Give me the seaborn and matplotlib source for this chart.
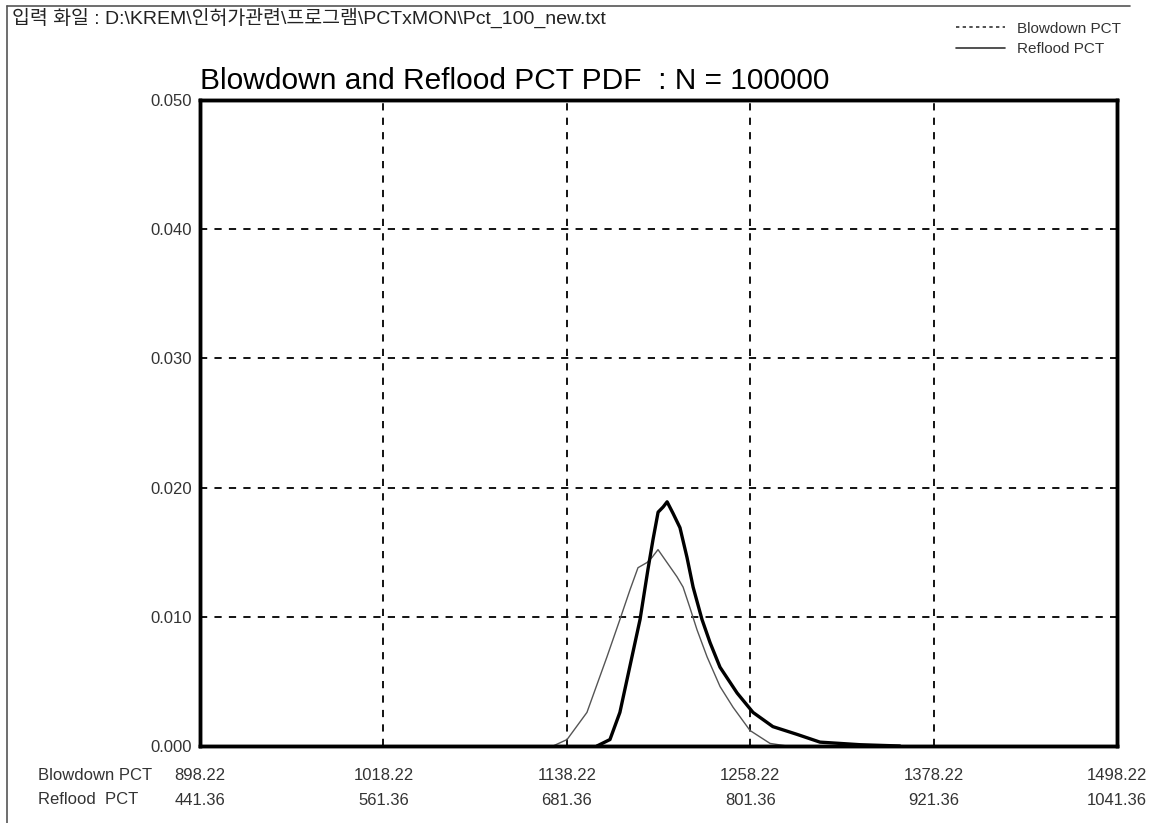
import matplotlib
matplotlib.use("Agg")
import matplotlib.pyplot as plt
import seaborn as sns
import pandas as pd
from matplotlib.lines import Line2D

# ---------------- data ----------------
blowdown_pct = [1129.2, 1138.4, 1151.4, 1164.5, 1173.0, 1179.6, 1184.8, 1190.7, 1194.0,
                1197.9, 1203.8, 1210.3, 1214.3, 1218.8, 1223.4, 1230.0, 1238.5, 1247.0,
                1258.1, 1271.2, 1282.3]
blowdown_pdf = [0.0000, 0.0005, 0.0026, 0.0069, 0.0098, 0.0121, 0.0138, 0.0142, 0.0146,
                0.0152, 0.0142, 0.0131, 0.0123, 0.0107, 0.0090, 0.0069, 0.0046, 0.0030,
                0.0012, 0.0002, 0.0000]

reflood_pct = [701.1, 709.6, 716.1, 722.7, 729.3, 734.5, 737.8, 741.1, 744.4, 747.0,
               750.9, 755.4, 760.0, 764.0, 769.8, 775.1, 781.6, 792.8, 803.2, 816.2,
               832.0, 847.0, 873.2, 899.3]
reflood_pdf = [0.0000, 0.0005, 0.0026, 0.0062, 0.0098, 0.0137, 0.0160, 0.0181, 0.0185, 0.0189,
               0.0180, 0.0169, 0.0146, 0.0123, 0.0098, 0.0080, 0.0061, 0.0041, 0.0026, 0.0015,
               0.0009, 0.0003, 0.0001, 0.0000]

blowdown_ticks = [898.22, 1018.22, 1138.22, 1258.22, 1378.22, 1498.22]
reflood_ticks = [441.36, 561.36, 681.36, 801.36, 921.36, 1041.36]
y_ticks = [0.000, 0.010, 0.020, 0.030, 0.040, 0.050]

title = "Blowdown and Reflood PCT PDF  : N = 100000"
header = "입력 화일 : D:\\KREM\\인허가관련\\프로그램\\PCTxMON\\Pct_100_new.txt"
series_names = ["Blowdown PCT", "Reflood PCT"]

# ---------------- style ----------------
sns.set_theme(style="white")
plt.rcParams['font.family'] = ['Liberation Sans', 'Noto Sans CJK KR', 'DejaVu Sans']

fig = plt.figure(figsize=(11.75, 8.23), dpi=100)
ax = fig.add_axes([200/1175, 77/823, 917/1175, 646/823])

df_b = pd.DataFrame({"x": blowdown_pct, "y": blowdown_pdf})
df_r = pd.DataFrame({"x": reflood_pct, "y": reflood_pdf})

# twin x axis for reflood scale (same pixel mapping)
ax2 = ax.twiny()
sns.lineplot(data=df_b, x="x", y="y", ax=ax, color="#555555", linewidth=1.0)
sns.lineplot(data=df_r, x="x", y="y", ax=ax2, color="black", linewidth=2.4)

ax.set_xlim(blowdown_ticks[0], blowdown_ticks[-1])
ax2.set_xlim(reflood_ticks[0], reflood_ticks[-1])
ax.set_ylim(0, 0.05)
ax2.set_ylim(0, 0.05)

ax.set_xticks(blowdown_ticks)
ax.set_xticklabels([])
ax2.set_xticks([])
ax.set_yticks(y_ticks)
ax.set_yticklabels([f"{v:.3f}" for v in y_ticks], fontsize=12, color="#333333")
ax.tick_params(axis="y", length=0, pad=6)
ax.tick_params(axis="x", length=0)
ax.set_xlabel("")
ax.set_ylabel("")
ax2.set_xlabel("")
ax2.set_ylabel("")

ax.grid(True, color="black", linestyle=(0, (4, 4)), linewidth=1.3)
for a in (ax, ax2):
    for s in a.spines.values():
        s.set_color("black")
        s.set_linewidth(2.5)

# two-row x tick labels
for bv, rv in zip(blowdown_ticks, reflood_ticks):
    xf = (bv - blowdown_ticks[0]) / (blowdown_ticks[-1] - blowdown_ticks[0])
    ax.text(xf, -0.046, f"{bv:.2f}", transform=ax.transAxes, ha="center", va="center",
            fontsize=12, color="#333333")
    ax.text(xf, -0.084, f"{rv:.2f}", transform=ax.transAxes, ha="center", va="center",
            fontsize=12, color="#333333")
fig.text(38/1175, 1 - 775/823, "Blowdown PCT", ha="left", va="center", fontsize=12, color="#333333")
fig.text(38/1175, 1 - 800/823, "Reflood  PCT", ha="left", va="center", fontsize=12, color="#333333")

# title
fig.text(200/1175, 1 - 81/823, title, ha="left", va="center", fontsize=21.5, color="black")

# header
fig.text(12/1175, 1 - 18/823, header, ha="left", va="center", fontsize=14, color="#222222")

# legend (custom, outside axes)
handles = [Line2D([], [], color="#333333", linestyle=(0, (2, 2)), linewidth=1.2),
           Line2D([], [], color="#333333", linestyle="-", linewidth=1.2)]
fig.legend(handles, series_names, loc="upper right", bbox_to_anchor=(1135/1175, 1 - 8/823),
           frameon=False, fontsize=11, handlelength=3.2, labelspacing=0.4, handletextpad=0.8,
           labelcolor="#333333")

# page frame lines
fig.add_artist(Line2D([7/1175, 7/1175], [0, 1 - 6/823], color="#555555", linewidth=1.2,
                      transform=fig.transFigure))
fig.add_artist(Line2D([7/1175, 1130/1175], [1 - 6/823, 1 - 6/823], color="#555555", linewidth=1.2,
                      transform=fig.transFigure))

fig.savefig("out.png", dpi=100)
